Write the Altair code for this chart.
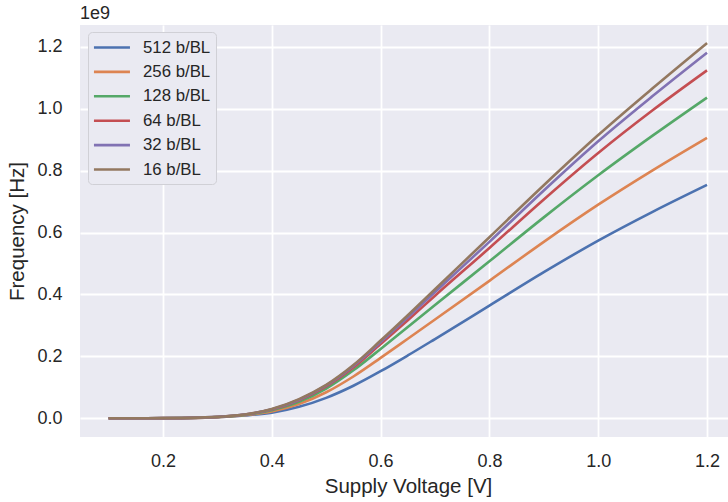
import altair as alt
import pandas as pd

voltage = [0.1, 0.15, 0.2, 0.25, 0.3, 0.35, 0.4, 0.45, 0.5, 0.55, 0.6, 0.65, 0.7, 0.8, 0.9, 1.0, 1.1, 1.2]

series_names = ["512 b/BL", "256 b/BL", "128 b/BL", "64 b/BL", "32 b/BL", "16 b/BL"]
series_colors = ["#4C72B0", "#DD8452", "#55A868", "#C44E52", "#8172B3", "#937860"]

# frequency in units of 1e9 Hz
f_512 = [0.0, 0.0, 0.0003, 0.0010, 0.0035, 0.009, 0.018, 0.037, 0.066, 0.105, 0.152, 0.203, 0.256, 0.364, 0.472, 0.574, 0.667, 0.754]
f_256 = [0.0, 0.0, 0.0003, 0.0011, 0.0038, 0.010, 0.022, 0.046, 0.084, 0.135, 0.195, 0.257, 0.319, 0.444, 0.570, 0.690, 0.801, 0.906]
f_128 = [0.0, 0.0, 0.0004, 0.0012, 0.0041, 0.011, 0.026, 0.053, 0.096, 0.155, 0.224, 0.295, 0.366, 0.507, 0.649, 0.785, 0.913, 1.036]
f_64 = [0.0, 0.0, 0.0004, 0.0013, 0.0043, 0.012, 0.028, 0.058, 0.103, 0.164, 0.240, 0.317, 0.396, 0.550, 0.707, 0.857, 0.995, 1.124]
f_32 = [0.0, 0.0, 0.0004, 0.0013, 0.0044, 0.012, 0.029, 0.060, 0.106, 0.169, 0.246, 0.326, 0.408, 0.570, 0.736, 0.895, 1.041, 1.181]
f_16 = [0.0, 0.0, 0.0004, 0.0013, 0.0045, 0.012, 0.030, 0.062, 0.108, 0.172, 0.251, 0.333, 0.417, 0.585, 0.753, 0.915, 1.066, 1.212]

x_ticks = [0.2, 0.4, 0.6, 0.8, 1.0, 1.2]
y_ticks = [0.0, 0.2, 0.4, 0.6, 0.8, 1.0, 1.2]

all_series = [f_512, f_256, f_128, f_64, f_32, f_16]
rows = []
for name, vals in zip(series_names, all_series):
    for v, f in zip(voltage, vals):
        rows.append({"V": v, "F": f, "series": name})
df = pd.DataFrame(rows)

FONT = "Liberation Sans"
TXT = "#262626"

lines = alt.Chart(df).mark_line(strokeWidth=2.6, clip=True, interpolate="monotone").encode(
    x=alt.X("V:Q",
            scale=alt.Scale(domain=[0.0474, 1.2386], nice=False, zero=False),
            axis=alt.Axis(values=x_ticks, format=".1f", title="Supply Voltage [V]",
                          titleX=328, labelPadding=15, titlePadding=6)),
    y=alt.Y("F:Q",
            scale=alt.Scale(domain=[-0.0605, 1.2705], nice=False, zero=False),
            axis=alt.Axis(values=y_ticks, format=".1f", title="Frequency [Hz]",
                          labelPadding=18, titlePadding=9)),
    color=alt.Color("series:N",
                    scale=alt.Scale(domain=series_names, range=series_colors),
                    sort=series_names,
                    legend=alt.Legend(title=None, orient="none", legendX=8, legendY=7)),
    detail="series:N",
)

offset_text = alt.Chart(alt.Data(values=[{"t": "1e9"}])).mark_text(
    align="left", baseline="middle", fontSize=18, font=FONT, color=TXT
).encode(x=alt.value(0), y=alt.value(-11), text="t:N")

chart = alt.layer(lines, offset_text).properties(
    width=648, height=412,
    autosize=alt.AutoSizeParams(type="none"),
    padding={"left": 80, "top": 25, "right": 0, "bottom": 65},
).configure_view(
    fill="#EAEAF2", stroke=None
).configure_axis(
    domain=False, ticks=False, tickSize=0,
    grid=True, gridColor="#FFFFFF", gridWidth=1.8,
    labelFont=FONT, labelFontSize=18, labelColor=TXT,
    titleFont=FONT, titleFontSize=20.5, titleColor=TXT, titleFontWeight="normal",
).configure_legend(
    padding=5, rowPadding=4.4,
    symbolType="M-1.06,0H2.94", symbolSize=324, symbolStrokeWidth=2.6,
    labelFont=FONT, labelFontSize=16.8, labelColor=TXT, labelOffset=29,
    fillColor="#EAEAF2", strokeColor="#D0D0D6", cornerRadius=4,
)

chart.save("out.html", embed_options={"renderer": "svg", "actions": False})
